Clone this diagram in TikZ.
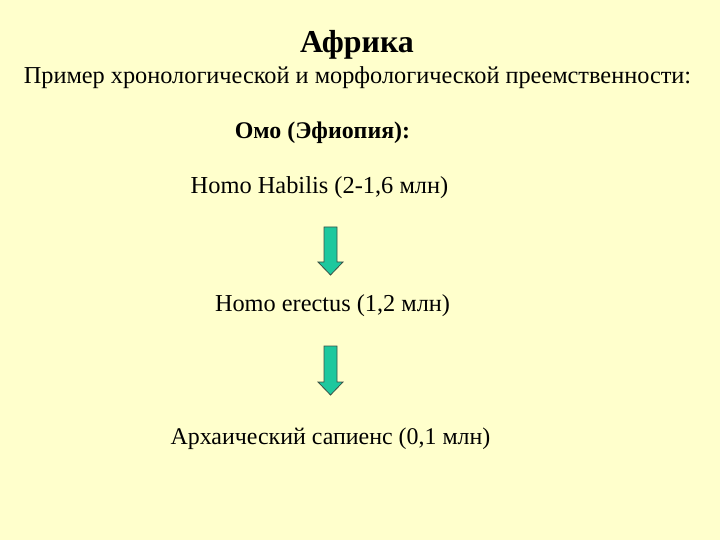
\documentclass[tikz,border=0pt]{standalone}
\usepackage{fontspec}
\setmainfont{Liberation Serif}
\definecolor{bg}{RGB}{255,255,204}
\definecolor{arrowfill}{RGB}{30,200,158}
\definecolor{arrowline}{RGB}{60,80,70}
\begin{document}
\begin{tikzpicture}[x=1bp,y=-1bp,
  txt/.style={inner sep=0pt,anchor=center},
  blockarrow/.style={fill=arrowfill,draw=arrowline,line width=0.8bp,line join=miter}]
\fill[bg] (0,0) rectangle (720,540);
\useasboundingbox (0,0) rectangle (720,540);
\node[txt] (title) at (357,45) {\fontsize{32}{34}\selectfont\bfseries Африка};
\node[txt] (sub) at (357.5,78) {\fontsize{24.4}{26}\selectfont Пример хронологической и морфологической преемственности:};
\node[txt] (omo) at (322.5,133) {\fontsize{24}{26}\selectfont\bfseries Омо (Эфиопия):};
\node[txt] (hh) at (319.5,188) {\fontsize{24.5}{26}\selectfont Homo Habilis (2-1,6 млн)};
\node[txt] (he) at (332.5,306) {\fontsize{24.4}{26}\selectfont Homo erectus (1,2 млн)};
\node[txt] (as) at (330.5,439) {\fontsize{24}{26}\selectfont Архаический сапиенс (0,1 млн)};
\draw[blockarrow] (324,227) -- (337,227) -- (337,262) -- (343,262) -- (330.5,275) -- (318,262) -- (324,262) -- cycle;
\draw[blockarrow] (324,346) -- (337,346) -- (337,382) -- (343,382) -- (330.5,395) -- (318,382) -- (324,382) -- cycle;
\end{tikzpicture}
\end{document}
